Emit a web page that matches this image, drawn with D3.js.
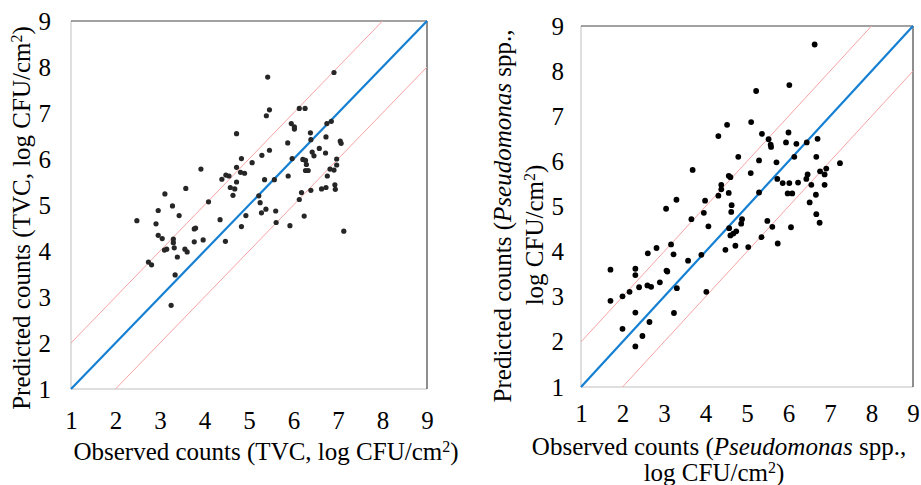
<!DOCTYPE html>
<html>
<head>
<meta charset="utf-8">
<title>Observed vs predicted counts</title>
<script src="https://d3js.org/d3.v7.min.js"></script>
<style>
  body { margin: 0; background: #fff; }
  text { font-family: "Liberation Serif", "Times New Roman", serif; fill: #000; }
  .tick text { font-size: 25px; }
  .title { font-size: 25px; }
</style>
</head>
<body>
<svg id="chart" width="921" height="485"></svg>
<script>
// tick values shared by both panels
const ticks = [1, 2, 3, 4, 5, 6, 7, 8, 9];

// left panel: TVC observed vs predicted (log CFU/cm2)
const tvcObs = [5.42,6.91,5.46,5.39,6.13,6.26,5.95,6.02,6.02,6.75,6.85,4.72,6.38,6.39,6.73,5.87,7.05,7.07,5.46,5.29,
  4.83,5.97,6.21,6.42,6.46,6.58,6.72,6.97,6.27,6.29,5.07,4.72,3.92,4.39,4.48,4.55,4.81,4.90,4.72,4.58,
  4.68,4.64,5.35,5.57,5.88,6.27,6.33,6.82,6.91,6.97,6.76,6.18,6.39,6.63,6.73,6.93,6.94,6.13,5.22,5.25,
  5.28,5.38,5.60,5.61,5.92,6.24,7.13,4.93,4.83,4.35,4.47,4.09,3.58,3.11,3.28,2.96,3.43,2.48,2.91,3.77,
  3.80,2.96,3.05,3.30,3.30,3.32,3.10,3.15,3.56,3.61,3.77,3.97,3.39,2.74,2.81,3.34,3.25];
const tvcPred = [7.78,7.88,7.07,6.94,7.10,7.10,6.77,6.70,6.65,6.77,6.82,6.55,6.57,6.42,6.48,6.35,6.39,6.34,6.19,6.08,
  6.01,6.01,5.99,6.15,6.07,6.23,6.13,6.00,5.97,5.88,5.92,5.82,5.78,5.56,5.65,5.63,5.71,5.69,5.50,5.38,
  5.35,5.21,5.55,5.55,5.63,5.75,5.75,5.78,5.76,5.87,5.63,5.27,5.32,5.35,5.38,5.44,5.34,5.12,5.20,5.05,
  4.83,4.91,4.87,4.62,4.55,4.76,4.43,4.77,4.53,4.68,4.21,5.07,5.36,5.24,4.98,4.88,4.77,4.66,4.59,4.48,
  4.50,4.34,4.27,4.26,4.18,4.07,4.02,4.04,4.04,3.98,4.20,4.24,3.87,3.76,3.70,3.48,2.82];

// right panel: Pseudomonas spp. observed vs predicted (log CFU/cm2)
const psObs = [6.63,6.02,5.22,5.10,4.52,4.31,5.36,5.52,5.57,5.58,6.00,5.94,6.19,6.44,6.70,6.67,6.14,4.79,5.29,5.71,
  7.24,5.09,4.56,4.60,3.69,4.38,4.38,4.31,4.56,5.29,5.73,5.86,6.02,6.23,6.43,6.46,6.76,6.87,6.91,6.55,
  6.87,5.98,6.09,6.66,6.51,6.67,6.75,6.06,3.30,3.99,3.05,3.96,4.63,4.62,3.66,4.07,4.88,4.86,5.49,5.61,
  4.57,4.67,4.60,4.74,4.72,4.48,5.03,5.35,5.74,2.82,2.61,3.17,3.23,3.58,3.90,3.06,3.08,2.31,2.31,1.71,
  2.90,2.60,2.69,2.40,3.31,2.17,2.00,1.71,4.02,2.31,3.24,2.65,2.00,2.48,2.31];
const psPred = [8.59,7.69,7.56,6.87,6.81,6.56,6.61,6.49,6.37,6.32,6.64,6.42,6.39,6.42,6.50,6.10,6.10,6.10,6.02,5.98,
  5.96,5.74,5.68,5.65,5.81,5.48,5.38,5.24,5.30,5.31,5.61,5.52,5.52,5.53,5.61,5.71,5.78,5.71,5.84,5.48,
  5.48,5.29,5.29,5.26,5.09,4.83,4.64,4.54,5.15,5.13,4.95,4.86,5.03,4.88,4.72,4.56,4.72,4.62,4.68,4.55,
  4.52,4.40,4.36,4.45,4.13,4.04,4.10,4.32,4.18,4.08,3.96,4.16,3.94,3.80,3.93,3.58,3.56,3.62,3.48,3.60,
  3.32,3.25,3.22,3.21,3.19,3.11,3.01,2.91,3.11,2.65,2.64,2.44,2.29,2.13,1.90];

const svg = d3.select("#chart");

function panel(cfg) {
  const x = d3.scaleLinear().domain([1, 9]).range([cfg.left, cfg.right]);
  const y = d3.scaleLinear().domain([1, 9]).range([cfg.bottom, cfg.top]);
  const g = svg.append("g");

  // frame: light left/bottom, dark top/right
  g.append("line").attr("x1", x(1)).attr("x2", x(9)).attr("y1", y(1)).attr("y2", y(1))
    .attr("stroke", "#d4d4d4").attr("stroke-width", 1.5);
  g.append("line").attr("x1", x(1)).attr("x2", x(1)).attr("y1", y(1)).attr("y2", y(9))
    .attr("stroke", "#d4d4d4").attr("stroke-width", 1.5);
  g.append("line").attr("x1", x(1)).attr("x2", x(9)).attr("y1", y(9)).attr("y2", y(9))
    .attr("stroke", "#444").attr("stroke-width", 1.2);
  g.append("line").attr("x1", x(9)).attr("x2", x(9)).attr("y1", y(1)).attr("y2", y(9))
    .attr("stroke", "#444").attr("stroke-width", 1.2);

  // +/- 1 log lines and the line of equality
  const line = d3.line().x(d => x(d[0])).y(d => y(d[1]));
  g.append("path").attr("d", line([[1, 2], [8, 9]])).attr("stroke", "#f7a3a3").attr("stroke-width", 1).attr("fill", "none");
  g.append("path").attr("d", line([[2, 1], [9, 8]])).attr("stroke", "#f7a3a3").attr("stroke-width", 1).attr("fill", "none");
  g.append("path").attr("d", line([[1, 1], [9, 9]])).attr("stroke", "#1580d3").attr("stroke-width", 2.2).attr("fill", "none");

  g.selectAll("circle.pt")
    .data(cfg.obs.map((o, i) => [o, cfg.pred[i]]))
    .enter()
    .append("circle")
    .attr("class", "pt")
    .attr("cx", d => x(d[0]))
    .attr("cy", d => y(d[1]))
    .attr("r", cfg.r)
    .attr("fill", cfg.dot);

  const xAxis = d3.axisBottom(x).tickValues(ticks).tickSize(0).tickPadding(cfg.xPad);
  g.append("g").attr("transform", "translate(0," + y(1) + ")").call(xAxis)
    .call(a => a.select(".domain").remove());
  const yAxis = d3.axisLeft(y).tickValues(ticks).tickSize(0).tickPadding(cfg.yPad);
  g.append("g").attr("transform", "translate(" + x(1) + ",0)").call(yAxis)
    .call(a => a.select(".domain").remove());
  g.selectAll(".tick text").attr("font-family", null).attr("font-size", null);

  return g;
}

// writes text parts: [string, italic?, superscript?]
function addText(g, parts) {
  parts.forEach(p => {
    const t = g.append("tspan").text(p[0]);
    if (p[1]) t.attr("font-style", "italic");
    if (p[2]) t.attr("font-size", "16px").attr("baseline-shift", "super");
  });
}

const left = panel({ left: 71, right: 427, top: 21, bottom: 389, obs: tvcObs, pred: tvcPred,
  r: 2.6, dot: "#262626", xPad: 22, yPad: 20 });
const right = panel({ left: 581, right: 913, top: 26, bottom: 387, obs: psObs, pred: psPred,
  r: 2.9, dot: "#000", xPad: 17, yPad: 17 });

// axis titles
addText(svg.append("text").attr("class", "title").attr("text-anchor", "middle")
  .attr("x", 266).attr("y", 460),
  [["Observed counts (TVC, log CFU/cm"], ["2", false, true], [")"]]);

addText(svg.append("text").attr("class", "title").attr("text-anchor", "middle")
  .attr("transform", "translate(30,218) rotate(-90)"),
  [["Predicted counts (TVC, log CFU/cm"], ["2", false, true], [")"]]);

addText(svg.append("text").attr("class", "title").attr("text-anchor", "middle")
  .attr("x", 719).attr("y", 455),
  [["Observed counts ("], ["Pseudomonas", true], [" spp.,"]]);
addText(svg.append("text").attr("class", "title").attr("text-anchor", "middle")
  .attr("x", 714).attr("y", 481),
  [["log CFU/cm"], ["2", false, true], [")"]]);

addText(svg.append("text").attr("class", "title").attr("text-anchor", "middle")
  .attr("transform", "translate(511,216) rotate(-90)"),
  [["Predicted counts ("], ["Pseudomonas", true], [" spp.,"]]);
addText(svg.append("text").attr("class", "title").attr("text-anchor", "middle")
  .attr("transform", "translate(543,235) rotate(-90)"),
  [["log CFU/cm"], ["2", false, true], [")"]]);
</script>
</body>
</html>
